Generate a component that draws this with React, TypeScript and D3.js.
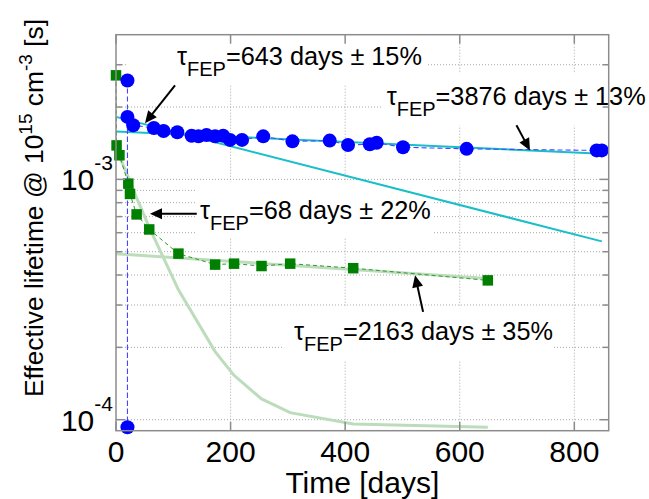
import React from "react";
import * as d3 from "d3";

// ---- data ----
const blueDays = [20, 20, 20, 30, 66, 83, 107, 132, 144, 158, 173, 187, 199, 220, 257, 308, 373, 405, 443, 455, 501, 612, 839, 848];
const blueVals = [2.58e-3, 9.3e-5, 1.82e-3, 1.68e-3, 1.635e-3, 1.59e-3, 1.57e-3, 1.52e-3, 1.51e-3, 1.53e-3, 1.51e-3, 1.52e-3, 1.46e-3, 1.46e-3, 1.51e-3, 1.44e-3, 1.45e-3, 1.39e-3, 1.40e-3, 1.42e-3, 1.36e-3, 1.34e-3, 1.32e-3, 1.32e-3];

const greenDays = [0, 1, 6, 21.5, 24.4, 36, 58, 109, 173, 206, 254, 304, 414, 649];
const greenVals = [2.71e-3, 1.385e-3, 1.26e-3, 9.6e-4, 8.7e-4, 7.15e-4, 6.19e-4, 4.91e-4, 4.42e-4, 4.46e-4, 4.36e-4, 4.46e-4, 4.27e-4, 3.8e-4];

const fit643Days = [0, 848];
const fit643Vals = [1.82e-3, 5.52e-4];
const fit3876Days = [0, 848];
const fit3876Vals = [1.584e-3, 1.277e-3];
const fit68Days = [0, 1, 6, 21.5, 24.4, 36, 58, 109, 173, 206, 254, 304, 414, 649];
const fit68Vals = [1.36e-3, 1.34e-3, 1.25e-3, 1.02e-3, 9.77e-4, 8.39e-4, 6.32e-4, 3.47e-4, 1.92e-4, 1.53e-4, 1.22e-4, 1.07e-4, 9.6e-5, 9.3e-5];
const fit2163Days = [0, 649];
const fit2163Vals = [4.9e-4, 3.87e-4];

const xTicks = [0, 200, 400, 600, 800];
const yMajorTicks = [1e-4, 1e-3];
const yMajorLabels = ["-4", "-3"];
const yMinorTicks = [2e-4, 3e-4, 4e-4, 5e-4, 6e-4, 7e-4, 8e-4, 9e-4, 2e-3, 3e-3];

// annotations: label value, error, text anchor (day, value), arrow tail & tip (day, value)
const annLabels = ["643", "3876", "68", "2163"];
const annErrors = ["15", "13", "22", "35"];
const annTextDay = [106.5, 472.5, 146.6, 310.7];
const annTextVal = [2.98e-3, 2.03e-3, 6.86e-4, 2.15e-4];
const arrowTail = [[103, 2.46e-3], [699, 1.68e-3], [141, 7.2e-4], [536, 2.81e-4]];
const arrowTip = [[50.6, 1.714e-3], [722.6, 1.32e-3], [59.3, 7.2e-4], [522, 3.99e-4]];

const W = 649, H = 499;
const L = 116, R = 608.7, T = 34.7, B = 430.7;
const FONT = "'Liberation Sans', Arial, Helvetica, sans-serif";

export default function App() {
  const x = d3.scaleLinear().domain([0, 860]).range([L, R]);
  const y = d3.scaleLog().domain([9e-5, 4e-3]).range([B, T]);
  const line = (ds: number[], vs: number[]) =>
    d3.line<number>().x((_, i) => x(ds[i])).y((v) => y(v))(vs) || "";

  // white text boxes (layout, relative to text anchor)
  const boxes = [
    [-49, -30, 250, 20],
    [-5, -32, 221, 20],
    [-5, -37, 233, 19],
    [-11, -34, 259, 21],
  ];

  const arrowHead = (x1: number, y1: number, x2: number, y2: number) => {
    const a = Math.atan2(y2 - y1, x2 - x1);
    const len = 12, w = 5.5;
    const bx = x2 - len * Math.cos(a), by = y2 - len * Math.sin(a);
    const px = -Math.sin(a) * w, py = Math.cos(a) * w;
    return `M${x2},${y2}L${bx + px},${by + py}L${bx - px},${by - py}Z`;
  };

  return (
    <svg width={W} height={H} style={{ position: "absolute", left: 0, top: 0, background: "#fff" }} fontFamily={FONT}>
      <rect x={0} y={0} width={W} height={H} fill="#fff" />
      {/* grid */}
      <g stroke="#a8a8a8" strokeWidth={1} strokeDasharray="1 2">
        {xTicks.filter((t) => t > 0).map((t) => (
          <line key={"gx" + t} x1={x(t)} x2={x(t)} y1={T} y2={B} />
        ))}
        {[...yMajorTicks, ...yMinorTicks].map((t) => (
          <line key={"gy" + t} x1={L} x2={R} y1={y(t)} y2={y(t)} />
        ))}
      </g>
      {/* white text backgrounds */}
      {boxes.map((b, i) => {
        const ax = x(annTextDay[i]), ay = y(annTextVal[i]);
        return <rect key={"bx" + i} x={ax + b[0]} y={Math.max(T, ay + b[1])} width={b[2] - b[0]} height={ay + b[3] - Math.max(T, ay + b[1])} fill="#fff" />;
      })}
      {/* fits */}
      <path d={line(fit68Days, fit68Vals)} fill="none" stroke="#bcdcbc" strokeWidth={3} />
      <path d={line(fit2163Days, fit2163Vals)} fill="none" stroke="#bcdcbc" strokeWidth={3} />
      <path d={line(fit643Days, fit643Vals)} fill="none" stroke="#19bfc8" strokeWidth={2} />
      <path d={line(fit3876Days, fit3876Vals)} fill="none" stroke="#19bfc8" strokeWidth={2} />
      {/* data connecting lines */}
      <path d={line(greenDays, greenVals)} fill="none" stroke="#2f9a2f" strokeWidth={1} strokeDasharray="4 3" />
      <path d={line(blueDays, blueVals)} fill="none" stroke="#4646ff" strokeWidth={1.1} strokeDasharray="5 3" />
      {/* markers */}
      {greenVals.map((v, i) => (
        <rect key={"gs" + i} x={x(greenDays[i]) - 5.25} y={y(v) - 5.25} width={10.5} height={10.5} fill="#008000" />
      ))}
      {blueVals.map((v, i) => (
        <circle key={"bc" + i} cx={x(blueDays[i])} cy={y(v)} r={7} fill="#0000ff" />
      ))}
      {/* axes box and ticks */}
      <g stroke="#8c8c8c" strokeWidth={1.5} fill="none">
        <rect x={L} y={T} width={R - L} height={B - T} />
        {xTicks.map((t) => (
          <g key={"xt" + t}>
            <line x1={x(t)} x2={x(t)} y1={B} y2={B - 9} />
            <line x1={x(t)} x2={x(t)} y1={T} y2={T + 9} />
          </g>
        ))}
        {yMajorTicks.map((t) => (
          <g key={"ytM" + t}>
            <line x1={L} x2={L + 9} y1={y(t)} y2={y(t)} />
            <line x1={R} x2={R - 9} y1={y(t)} y2={y(t)} />
          </g>
        ))}
        {yMinorTicks.map((t) => (
          <g key={"ytm" + t}>
            <line x1={L} x2={L + 6} y1={y(t)} y2={y(t)} />
            <line x1={R} x2={R - 6} y1={y(t)} y2={y(t)} />
          </g>
        ))}
      </g>
      {/* arrows */}
      {arrowTail.map((t, i) => {
        const x1 = x(t[0]), y1 = y(t[1]), x2 = x(arrowTip[i][0]), y2 = y(arrowTip[i][1]);
        const a = Math.atan2(y2 - y1, x2 - x1);
        return (
          <g key={"ar" + i}>
            <line x1={x1} y1={y1} x2={x2 - 10 * Math.cos(a)} y2={y2 - 10 * Math.sin(a)} stroke="#000" strokeWidth={2} />
            <path d={arrowHead(x1, y1, x2, y2)} fill="#000" />
          </g>
        );
      })}
      {/* annotation texts */}
      {annLabels.map((lab, i) => (
        <text key={"tx" + i} x={x(annTextDay[i])} y={y(annTextVal[i])} fontSize={25.3} fill="#000">
          <tspan>τ</tspan>
          <tspan fontSize={20} dy={11}>FEP</tspan>
          <tspan dy={-11}>{`=${lab} days ± ${annErrors[i]}%`}</tspan>
        </text>
      ))}
      {/* x tick labels */}
      {xTicks.map((t) => (
        <text key={"xl" + t} x={x(t)} y={462} fontSize={30} textAnchor="middle" fill="#000">{t}</text>
      ))}
      <text x={(L + R) / 2} y={493} fontSize={30} textAnchor="middle" fill="#000">Time [days]</text>
      {/* y tick labels */}
      {yMajorTicks.map((t, i) => (
        <text key={"yl" + t} x={113} y={y(t) + 11} fontSize={30} textAnchor="end" fill="#000">
          <tspan>10</tspan>
          <tspan fontSize={21} dy={-20}>{yMajorLabels[i]}</tspan>
        </text>
      ))}
      <text transform={`translate(43,208) rotate(-90)`} fontSize={26.4} textAnchor="middle" fill="#000">
        <tspan>Effective lifetime @ 10</tspan>
        <tspan fontSize={19} dy={-11}>15</tspan>
        <tspan dy={11}> cm</tspan>
        <tspan fontSize={19} dy={-11}>-3</tspan>
        <tspan dy={11}> [s]</tspan>
      </text>
    </svg>
  );
}
